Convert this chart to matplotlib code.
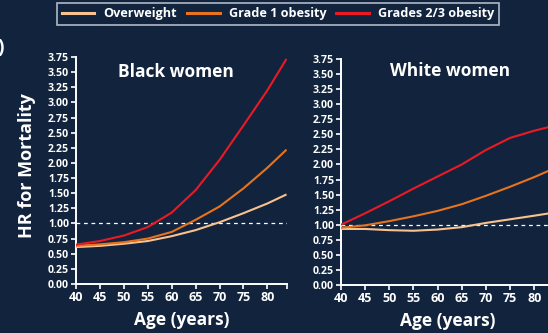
import matplotlib
matplotlib.use("Agg")
import matplotlib.pyplot as plt
from matplotlib.lines import Line2D

# Hazard ratios for all-cause mortality by age
ages = [40, 45, 50, 55, 60, 65, 70, 75, 80, 84]

black_overweight = [0.61, 0.63, 0.665, 0.71, 0.79, 0.89, 1.02, 1.17, 1.33, 1.48]
black_grade1 = [0.63, 0.655, 0.69, 0.75, 0.86, 1.06, 1.28, 1.58, 1.92, 2.22]
black_grade23 = [0.65, 0.71, 0.80, 0.94, 1.18, 1.55, 2.05, 2.62, 3.20, 3.72]

white_overweight = [0.93, 0.93, 0.91, 0.90, 0.92, 0.96, 1.03, 1.09, 1.15, 1.20]
white_grade1 = [0.95, 0.99, 1.06, 1.14, 1.23, 1.34, 1.48, 1.63, 1.79, 1.93]
white_grade23 = [1.00, 1.19, 1.39, 1.60, 1.80, 2.00, 2.24, 2.44, 2.56, 2.64]

series_labels = ["Overweight", "Grade 1 obesity", "Grades 2/3 obesity"]
series_colors = ["#f8c18e", "#e8731e", "#ea1a24"]

panel_titles = ["Black women", "White women"]
y_ticks = [i * 0.25 for i in range(16)]
x_ticks = [40, 45, 50, 55, 60, 65, 70, 75, 80]

BG = "#12243d"
FG = "white"
FONT = "Open Sans"

W, H = 548, 333
fig = plt.figure(figsize=(W / 100, H / 100), dpi=100, facecolor=BG)


def px_axes(x0, x1, ytop, ybot):
    return fig.add_axes([x0 / W, 1 - ybot / H, (x1 - x0) / W, (ybot - ytop) / H])


ax_black = px_axes(76, 287, 57, 284)
ax_white = px_axes(341, 554, 59, 285)

panels = [
    (ax_black, [black_overweight, black_grade1, black_grade23]),
    (ax_white, [white_overweight, white_grade1, white_grade23]),
]

for (ax, series), title in zip(panels, panel_titles):
    ax.set_facecolor(BG)
    ax.axhline(1.0, color=FG, lw=0.9, ls=(0, (3, 3)), zorder=1)
    for vals, col in zip(series, series_colors):
        ax.plot(ages, vals, color=col, lw=1.5, zorder=3, solid_capstyle="butt")
    ax.set_xlim(40, 84.1)
    ax.set_ylim(0, 3.75)
    ax.set_yticks(y_ticks)
    ax.set_yticklabels([f"{v:.2f}" for v in y_ticks])
    ax.set_xticks(x_ticks + [84.1])
    ax.set_xticklabels([str(v) for v in x_ticks] + [""])
    for side in ("top", "right"):
        ax.spines[side].set_visible(False)
    for side in ("left", "bottom"):
        ax.spines[side].set_color(FG)
        ax.spines[side].set_linewidth(1.4)
    ax.tick_params(colors=FG, width=1.2, length=3.5, pad=1.5)
    for lab in ax.get_yticklabels():
        lab.set_fontfamily(FONT)
        lab.set_fontweight("bold")
        lab.set_fontsize(7.6)
    for lab in ax.get_xticklabels():
        lab.set_fontfamily(FONT)
        lab.set_fontweight("bold")
        lab.set_fontsize(9)
    ax.set_xlabel("Age (years)", color=FG, fontfamily=FONT, fontweight="bold",
                  fontsize=12.5, labelpad=5)

ax_black.text(0.474, 0.935, panel_titles[0], transform=ax_black.transAxes,
              ha="center", va="center", color=FG, fontfamily=FONT,
              fontweight="bold", fontsize=12.5)
ax_white.text(0.51, 0.945, panel_titles[1], transform=ax_white.transAxes,
              ha="center", va="center", color=FG, fontfamily=FONT,
              fontweight="bold", fontsize=12.5)

fig.text(27 / W, 1 - 166 / H, "HR for Mortality", rotation=90, ha="center",
         va="center", color=FG, fontfamily=FONT, fontweight="bold", fontsize=13)

# Panel letter, partly cut off at the left edge
fig.text(4 / W, 1 - 48 / H, ")", ha="right", va="center", color=FG,
         fontfamily=FONT, fontweight="bold", fontsize=14)

handles = [Line2D([], [], color=c, lw=2.2) for c in series_colors]
leg = fig.legend(handles, series_labels, loc="center",
                 bbox_to_anchor=(278 / W, 1 - 14 / H), ncol=3, frameon=True,
                 facecolor=BG, edgecolor="#d8dde6", handlelength=2.6,
                 handletextpad=0.7, columnspacing=0.8, borderpad=0.35,
                 borderaxespad=0.0,
                 prop={"family": FONT, "weight": "bold", "size": 9.1})
leg.get_frame().set_linewidth(1.2)
leg.get_frame().set_boxstyle("square", pad=0.0)
for t in leg.get_texts():
    t.set_color(FG)

fig.savefig("out.png", dpi=100, facecolor=BG)
